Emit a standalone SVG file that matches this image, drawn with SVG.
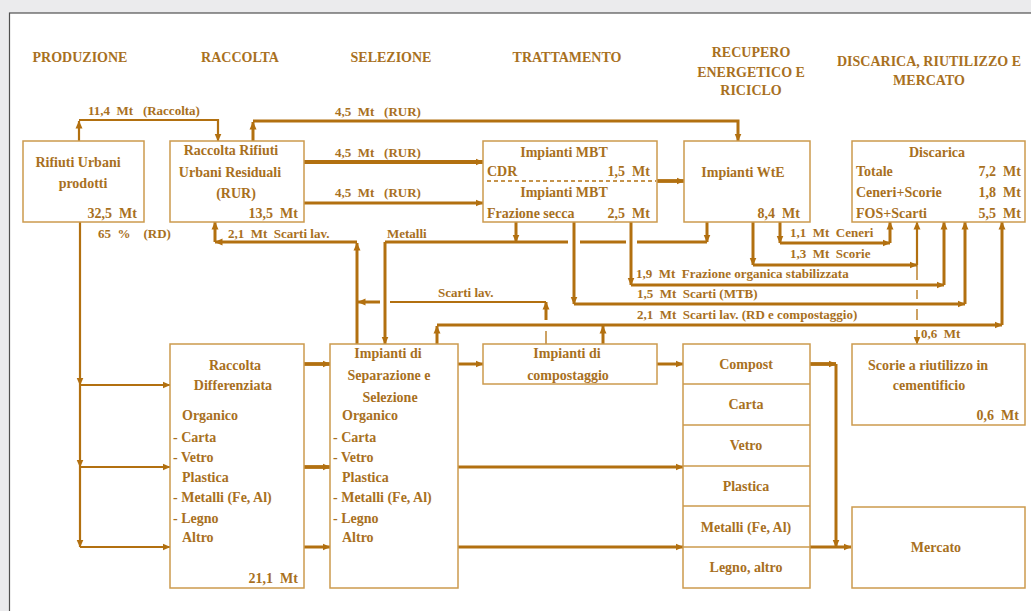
<svg xmlns="http://www.w3.org/2000/svg" width="1031" height="611" viewBox="0 0 1031 611">
<defs>
<style>
text { font-family: "Liberation Serif", "Times New Roman", serif; font-weight: bold; fill: #A8701E; white-space: pre; font-size: 14px; }
.c { text-anchor: middle; }
.r { text-anchor: end; }
.l { font-size: 13px; }
.box { fill: #fff; stroke: #CC9A4E; stroke-width: 1.5; }
.dv { fill: none; stroke: #CC9A4E; stroke-width: 1.5; }
.dash { fill: none; stroke: #B27010; stroke-width: 1.3; stroke-dasharray: 4 3; }
.w { fill: none; stroke: #B27010; stroke-width: 3; }
.wt { fill: none; stroke: #B27010; stroke-width: 3.8; }
.m { fill: none; stroke: #B27010; stroke-width: 2.2; }
.th { fill: none; stroke: #B27010; stroke-width: 1.3; }
.a { marker-end: url(#ah); }
</style>
<marker id="ah" viewBox="0 0 8 8" refX="7.5" refY="4" markerWidth="8" markerHeight="8" markerUnits="userSpaceOnUse" orient="auto">
<path d="M0,0.5 L8,4 L0,7.5 z" fill="#B27010"/>
</marker>
</defs>

<rect x="0" y="0" width="1031" height="611" fill="#EBEBED"/>
<rect x="9.5" y="13" width="1030" height="610" fill="#FFFFFF" stroke="#505050" stroke-width="1.2"/>

<g id="headers">
<text class="c" x="80" y="62">PRODUZIONE</text>
<text class="c" x="240" y="62">RACCOLTA</text>
<text class="c" x="391" y="62">SELEZIONE</text>
<text class="c" x="567" y="62">TRATTAMENTO</text>
<text class="c" x="751" y="57">RECUPERO</text>
<text class="c" x="751" y="77">ENERGETICO E</text>
<text class="c" x="751" y="95">RICICLO</text>
<text class="c" x="929" y="66">DISCARICA, RIUTILIZZO E</text>
<text class="c" x="929" y="85">MERCATO</text>
</g>

<g id="connectors">
<path class="m a" d="M79,141 V121"/>
<path class="m a" d="M79,120 H218 V141"/>
<path class="w a" d="M253,141 V122"/>
<path class="w a" d="M253,121 H738 V141"/>
<path class="wt a" d="M304,162 H483"/>
<path class="w a" d="M304,203 H483"/>
<path class="wt a" d="M657,181 H684"/>

<path class="w a" d="M516,222 V242"/>
<path class="w a" d="M707,222 V242"/>
<path class="w" d="M707,242 H637 M626,242 H580 M568,242 H385"/>
<path class="w a" d="M385,242 V344"/>

<path class="w a" d="M631,222 V285"/>
<path class="w a" d="M631,285 H944"/>
<path class="w a" d="M944,285 V222"/>

<path class="w a" d="M574,222 V304"/>
<path class="w a" d="M574,304 H965"/>
<path class="w a" d="M965,304 V222"/>

<path class="w a" d="M780,222 V243"/>
<path class="w a" d="M780,243 H890"/>
<path class="w a" d="M890,243 V222"/>

<path class="w a" d="M753,222 V265"/>
<path class="w a" d="M753,265 H917"/>
<path class="m a" d="M917,265 V222"/>
<path class="th a" d="M917,265 V280 M917,290 V299 M917,309 V320 M917,330 V344"/>

<path class="w a" d="M437,344 V326"/>
<path class="w a" d="M437,325 H1002"/>
<path class="w a" d="M1002,325 V222"/>
<path class="w a" d="M603,344 V326"/>

<path class="th" d="M546,344 V331"/>
<path class="w a" d="M546,320 V302"/>
<path class="m" d="M546,302 H390"/>
<path class="w a" d="M380,302 H358"/>

<path class="w a" d="M357,344 V243"/>
<path class="w a" d="M357,242 H215"/>
<path class="w a" d="M215,242 V222"/>

<path class="m a" d="M80,222 V385"/>
<path class="m a" d="M80,385 V467"/>
<path class="m a" d="M80,467 V547"/>
<path class="m a" d="M80,385 H170"/>
<path class="m a" d="M80,467 H170"/>
<path class="m a" d="M80,547 H170"/>

<path class="wt a" d="M304,364 H330"/>
<path class="wt a" d="M304,467 H330"/>
<path class="w a" d="M304,547 H330"/>

<path class="w a" d="M458,364 H483"/>
<path class="w a" d="M458,467 H683"/>
<path class="w a" d="M458,547 H683"/>
<path class="w a" d="M657,364 H683"/>
<path class="wt a" d="M810,364 H836"/>
<path class="w a" d="M836,364 V547"/>
<path class="w a" d="M810,547 H851"/>

<text class="l" x="88" y="115">11,4  Mt   (Raccolta)</text>
<text class="l" x="335" y="116">4,5  Mt   (RUR)</text>
<text class="l" x="335" y="157">4,5  Mt   (RUR)</text>
<text class="l" x="335" y="197">4,5  Mt   (RUR)</text>
<text class="l" x="98" y="238">65  %    (RD)</text>
<text class="l" x="228" y="238">2,1  Mt  Scarti lav.</text>
<text class="l" x="387" y="238">Metalli</text>
<text class="l" x="438" y="297">Scarti lav.</text>
<text class="l" x="636" y="278">1,9  Mt  Frazione organica stabilizzata</text>
<text class="l" x="637" y="298">1,5  Mt  Scarti (MTB)</text>
<text class="l" x="637" y="319">2,1  Mt  Scarti lav. (RD e compostaggio)</text>
<text class="l" x="790" y="237">1,1  Mt  Ceneri</text>
<text class="l" x="790" y="258">1,3  Mt  Scorie</text>
<text class="l" x="921" y="338">0,6  Mt</text>
</g>

<g id="rifiuti-urbani">
<rect class="box" x="23" y="141" width="121" height="81"/>
<text class="c" x="78" y="167">Rifiuti Urbani</text>
<text class="c" x="83" y="188">prodotti</text>
<text class="r" x="137" y="218">32,5  Mt</text>
</g>

<g id="raccolta-rur">
<rect class="box" x="170" y="141" width="134" height="81"/>
<text class="c" x="231" y="155">Raccolta Rifiuti</text>
<text class="c" x="230" y="177">Urbani Residuali</text>
<text class="c" x="236" y="198">(RUR)</text>
<text class="r" x="298" y="218">13,5  Mt</text>
</g>

<g id="impianti-mbt">
<rect class="box" x="483" y="141" width="174" height="81"/>
<text class="c" x="564" y="157">Impianti MBT</text>
<text x="487" y="176">CDR</text>
<text class="r" x="650" y="176">1,5  Mt</text>
<path class="dash" d="M487,181 H656"/>
<text class="c" x="564" y="197">Impianti MBT</text>
<text x="487" y="218">Frazione secca</text>
<text class="r" x="650" y="218">2,5  Mt</text>
</g>

<g id="impianti-wte">
<rect class="box" x="684" y="141" width="126" height="81"/>
<text class="c" x="743" y="177">Impianti WtE</text>
<text class="r" x="800" y="218">8,4  Mt</text>
</g>

<g id="discarica">
<rect class="box" x="852" y="141" width="173" height="81"/>
<text class="c" x="937" y="157">Discarica</text>
<text x="856" y="176">Totale</text>
<text class="r" x="1021" y="176">7,2  Mt</text>
<text x="856" y="197">Ceneri+Scorie</text>
<text class="r" x="1021" y="197">1,8  Mt</text>
<text x="856" y="218">FOS+Scarti</text>
<text class="r" x="1021" y="218">5,5  Mt</text>
</g>

<g id="raccolta-differenziata">
<rect class="box" x="170" y="344" width="134" height="244"/>
<text class="c" x="235" y="370">Raccolta</text>
<text class="c" x="233" y="390">Differenziata</text>
<text x="182" y="420">Organico</text>
<text x="173" y="442">- Carta</text>
<text x="173" y="462">- Vetro</text>
<text x="182" y="482">Plastica</text>
<text x="173" y="502">- Metalli (Fe, Al)</text>
<text x="173" y="523">- Legno</text>
<text x="182" y="542">Altro</text>
<text class="r" x="298" y="583">21,1  Mt</text>
</g>

<g id="impianti-separazione">
<rect class="box" x="330" y="344" width="128" height="244"/>
<text class="c" x="388" y="358">Impianti di</text>
<text class="c" x="389" y="380">Separazione e</text>
<text class="c" x="390" y="402">Selezione</text>
<text x="342" y="420">Organico</text>
<text x="333" y="442">- Carta</text>
<text x="333" y="462">- Vetro</text>
<text x="342" y="482">Plastica</text>
<text x="333" y="502">- Metalli (Fe, Al)</text>
<text x="333" y="523">- Legno</text>
<text x="342" y="542">Altro</text>
</g>

<g id="impianti-compostaggio">
<rect class="box" x="483" y="344" width="174" height="40"/>
<text class="c" x="567" y="358">Impianti di</text>
<text class="c" x="568" y="380">compostaggio</text>
</g>

<g id="prodotti-riciclo">
<rect class="box" x="683" y="344" width="127" height="244"/>
<path class="dv" d="M683,384 H810 M683,425 H810 M683,466 H810 M683,506 H810 M683,547 H810"/>
<text class="c" x="746" y="369">Compost</text>
<text class="c" x="746" y="409">Carta</text>
<text class="c" x="746" y="450">Vetro</text>
<text class="c" x="746" y="491">Plastica</text>
<text class="c" x="746" y="532">Metalli (Fe, Al)</text>
<text class="c" x="746" y="572">Legno, altro</text>
</g>

<g id="scorie-cementificio">
<rect class="box" x="852" y="344" width="173" height="81"/>
<text class="c" x="928" y="370">Scorie a riutilizzo in</text>
<text class="c" x="929" y="390">cementificio</text>
<text class="r" x="1019" y="420">0,6  Mt</text>
</g>

<g id="mercato">
<rect class="box" x="852" y="507" width="173" height="81"/>
<text class="c" x="936" y="552">Mercato</text>
</g>
</svg>
